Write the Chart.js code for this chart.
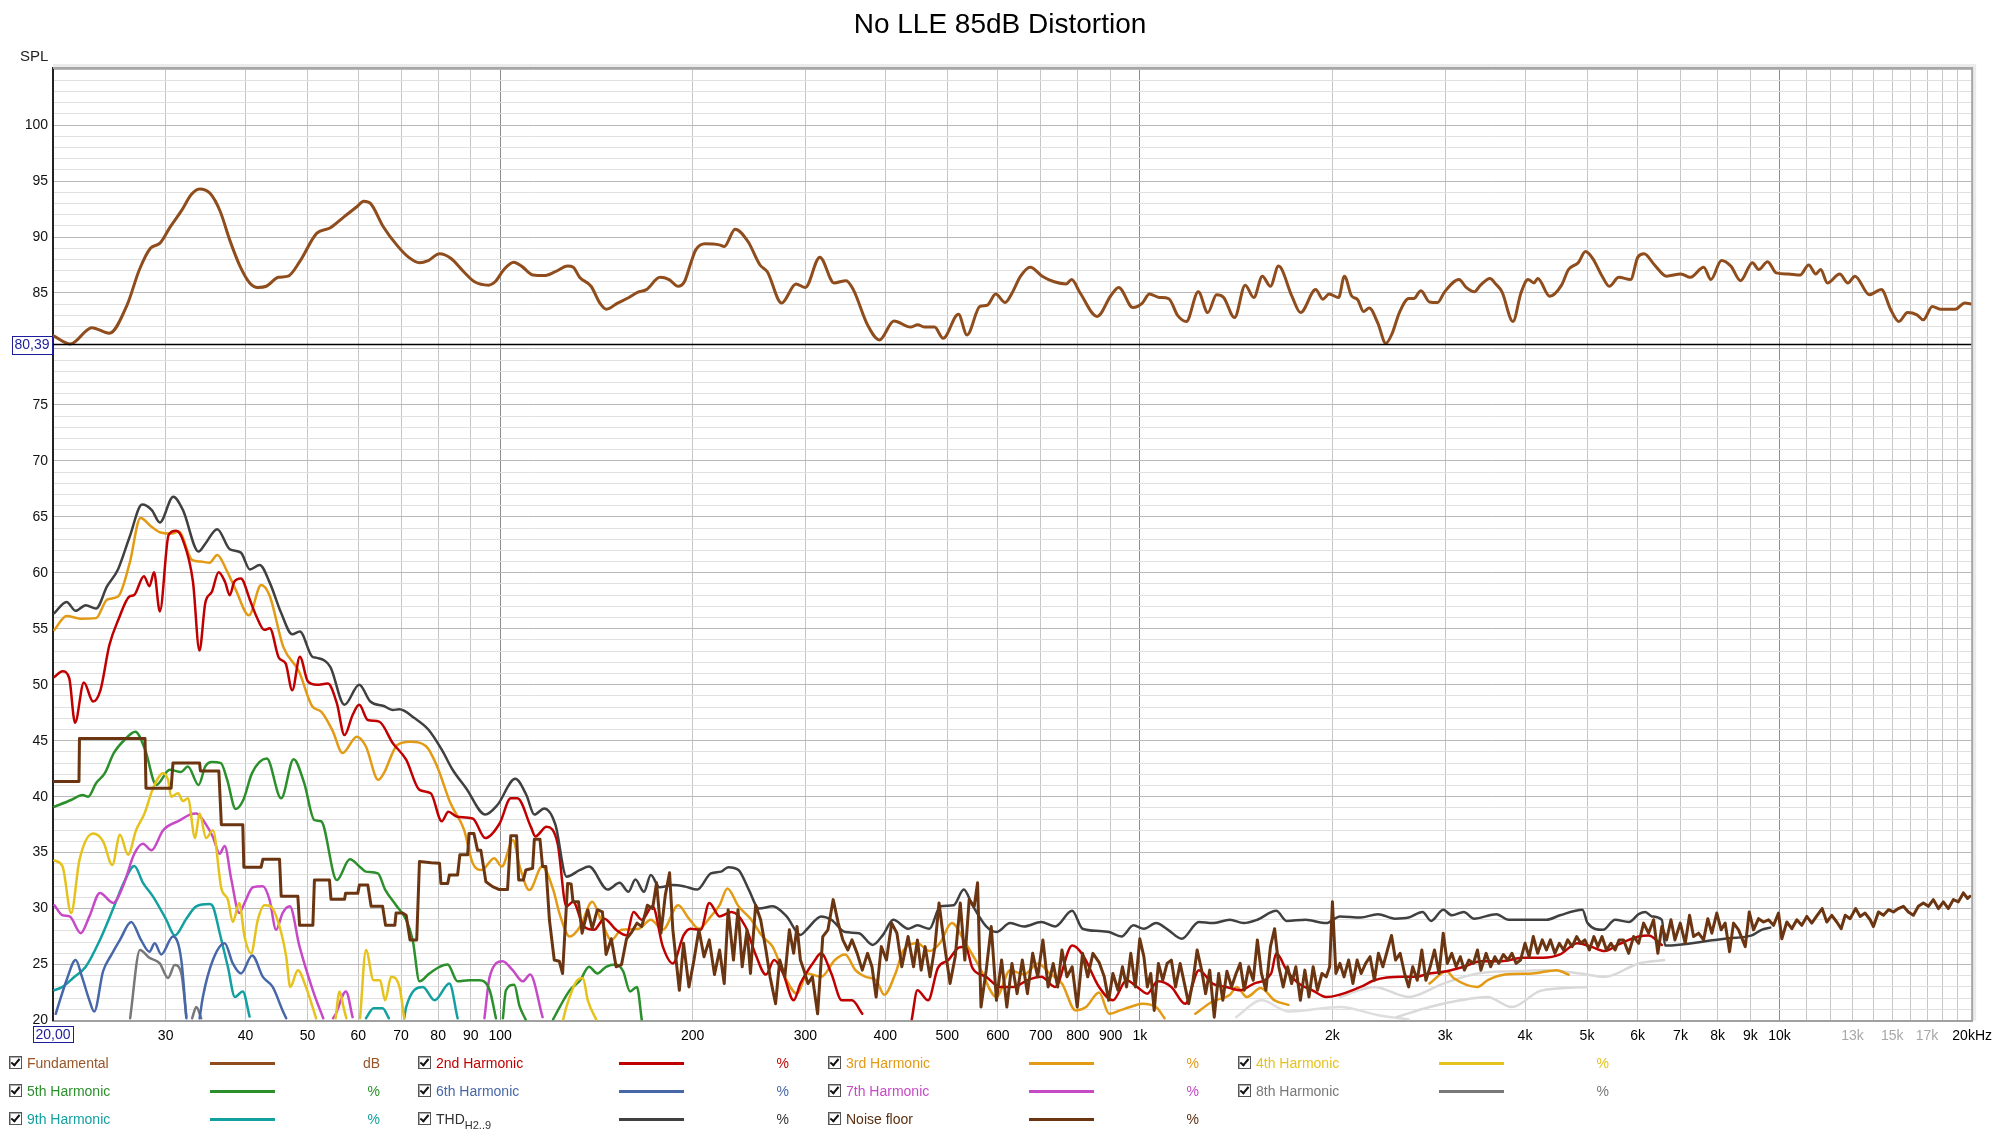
<!DOCTYPE html>
<html>
<head>
<meta charset="utf-8">
<title>No LLE 85dB Distortion</title>
<script src="https://cdn.jsdelivr.net/npm/chart.js@4.4.1/dist/chart.umd.min.js"></script>
<style>
  html, body { margin: 0; padding: 0; background: #fff; }
  #wrap { position: relative; width: 1999px; height: 1135px; overflow: hidden; font-family: "Liberation Sans", Arial, sans-serif; }
  #chart { position: absolute; left: 0; top: 0; }
  #spl { position: absolute; left: 20px; top: 47px; font-size: 15px; color: #222; }
  .item { position: absolute; height: 18px; font-size: 14px; }
  .cb { position: absolute; left: 0; top: 2px; width: 11px; height: 11px; border: 1px solid #555; background: #fff; box-shadow: inset 1px 1px 0 #aaa; }
  .cb::after { content: ''; position: absolute; left: 3px; top: 0; width: 3px; height: 7px; border: solid #111; border-width: 0 2px 2px 0; transform: rotate(40deg); }
  .name { position: absolute; left: 18px; top: 0; white-space: nowrap; line-height: 18px; }
  .name sub { font-size: 11px; vertical-align: -5px; }
  .swatch { position: absolute; left: 201px; top: 8px; width: 65px; height: 3px; }
  .unit { position: absolute; left: 300px; top: 0; width: 71px; text-align: right; line-height: 18px; }
</style>
</head>
<body>
<div id="wrap">
  <canvas id="chart" width="1999" height="1135"></canvas>
  <div id="spl">SPL</div>
  <div id="legend"></div>
</div>
<script>
// Frequency response and distortion readings, [Hz, dB]
const fundamental = [[20,81.2],[21.3,80.45],[23.0,81.9],[24.5,81.4],[26.1,83.9],[27.3,87.1],[28.4,89.0],[29.4,89.45],[30.5,90.9],[31.8,92.4],[32.9,93.8],[33.9,94.3],[35.2,93.9],[36.5,92.3],[37.8,89.7],[39.2,87.4],[40.6,85.9],[41.8,85.5],[43.1,85.6],[45.0,86.4],[46.6,86.5],[48.6,87.8],[51.7,90.35],[54.2,90.8],[57.0,91.8],[59.7,92.7],[61.2,93.2],[62.7,93.0],[65.7,90.9],[68.9,89.3],[71.9,88.2],[74.8,87.7],[77.2,87.9],[80.4,88.5],[83.7,88.1],[87.7,86.9],[91.2,86.0],[95.9,85.7],[98.2,86.0],[101.4,87.1],[105,87.75],[108,87.4],[112.6,86.6],[117.2,86.55],[122,86.9],[127.5,87.4],[130.1,87.3],[133.1,86.4],[138.7,85.6],[143.2,84.1],[146.6,83.55],[152.6,84.1],[159,84.6],[163.9,85.05],[169.3,85.3],[177.8,86.4],[183.7,86.2],[189.7,85.6],[194.1,86.0],[198.7,87.7],[202.2,88.85],[209.1,89.4],[220.1,89.3],[224,89.15],[233,90.7],[244,89.6],[254.8,87.5],[261.6,86.9],[275.4,84.1],[290,85.8],[300,85.5],[316,88.2],[332.6,85.9],[347.4,86.1],[356.5,85.3],[375.2,82.15],[391.6,80.8],[412.6,82.5],[438,81.95],[449.4,82.15],[461.3,81.95],[477.6,81.95],[492.6,80.95],[520.4,83.1],[536.8,81.25],[562.3,83.8],[577,83.9],[595.2,84.9],[615.8,84.15],[631.3,85.0],[650.9,86.5],[673.8,87.3],[703.6,86.5],[734.6,86.0],[766.9,85.8],[782.2,86.2],[806.6,85.0],[857.4,82.9],[901.6,84.8],[926.5,85.5],[975,83.7],[1009,84.1],[1035,84.9],[1072,84.6],[1109,84.5],[1147,82.95],[1182,82.45],[1234,85.1],[1277,83.25],[1318,84.85],[1352,84.6],[1406,82.8],[1461,85.7],[1507,84.6],[1554,86.5],[1600,85.6],[1647,87.4],[1729,84.7],[1783,83.25],[1883,85.3],[1932,84.45],[1976,84.9],[2045,84.6],[2088,86.5],[2142,84.75],[2190,84.4],[2236,83.35],[2283,83.65],[2355,82.3],[2424,80.5],[2480,81.4],[2545,83.25],[2633,84.5],[2680,84.5],[2750,85.2],[2836,84.2],[2920,84.15],[2995,85.1],[3154,86.2],[3236,85.5],[3332,85.1],[3408,85.7],[3526,86.3],[3600,85.8],[3682,85.1],[3830,82.45],[3942,85.0],[4044,86.2],[4130,85.9],[4188,86.3],[4372,84.7],[4562,85.7],[4678,87.1],[4844,87.7],[4972,88.7],[5102,88.1],[5280,86.5],[5416,85.6],[5606,86.4],[5848,86.2],[6004,88.2],[6140,88.5],[6376,87.5],[6656,86.5],[7008,86.7],[7252,86.4],[7610,87.3],[7810,86.2],[8110,87.9],[8392,87.4],[8688,86.1],[9070,87.7],[9276,87.1],[9578,87.8],[9880,86.8],[10316,86.7],[10766,86.6],[11104,87.5],[11396,86.7],[11594,87.1],[11878,85.9],[12418,86.7],[12786,85.9],[13116,86.5],[13814,84.85],[14422,85.3],[14922,83.5],[15366,82.45],[15848,83.25],[16398,83.05],[16776,82.6],[17326,83.8],[17870,83.55],[18818,83.55],[19472,84.1],[20000,84.0]];

const harmonic2 = [[20.1,50.7],[20.7,51.2],[21.2,50.6],[21.65,46.6],[22.35,50.2],[23.1,48.5],[23.72,49.5],[24.5,53.55],[25.3,55.8],[26.35,57.9],[26.77,58.0],[27.74,59.7],[28.3,58.8],[28.77,60.05],[29.38,56.55],[30.33,63.4],[31.17,63.75],[31.93,62.9],[33.1,59.2],[33.88,53.05],[34.6,57.3],[35.43,58.3],[36.3,60.05],[37.14,59.2],[37.79,58.0],[38.4,59.2],[39.33,59.5],[40.62,57.6],[41.6,56.1],[42.8,54.9],[43.65,55.05],[45.1,52.4],[46.2,51.9],[47.32,49.5],[48.63,52.5],[50.05,50.3],[51.69,50.0],[53.8,50.1],[55.55,48.35],[57.1,45.5],[58.8,47.3],[60.21,48.2],[62.1,46.85],[64.7,46.7],[67.92,44.8],[71.3,43.3],[74.8,40.6],[77.9,40.3],[81.04,37.8],[83.0,38.65],[85.7,38.2],[90.6,38.05],[94.8,36.3],[99.8,37.6],[103.9,39.85],[106.4,39.85],[111.7,37.3],[113.5,36.45],[118.2,37.3],[123.0,35.8],[126.9,30.2],[130.0,30.6],[135.1,28.4],[140.2,28.1],[145.5,29.1],[151.8,28.1],[157.6,27.6],[161.6,29.7],[166.5,29.0],[173.1,30.2],[179.6,26.6],[186.2,25.1],[193.5,27.6],[198.3,28.2],[205.8,28.1],[212.3,30.5],[220.3,29.3],[230.0,29.7],[241.8,28.4],[250.8,25.9],[260.3,24.1],[268.1,25.4],[276.9,24.2],[287.6,21.8],[294.7,23.3],[309.7,25.3],[317.5,26.0],[329.4,24.2],[342.0,21.8],[354.8,21.8],[368.2,20.6],[390,null],[440,20.1],[449.0,22.7],[466.6,21.8],[483.4,24.7],[501.9,25.4],[520.8,26.5],[533.9,26.6],[547.3,24.7],[575.2,23.9],[604.3,23.0],[634.8,23.0],[667.2,23.6],[701.1,23.9],[736.9,23.0],[783.8,26.7],[813.5,25.9],[863.5,23.0],[907.5,21.8],[953.3,23.6],[989.7,23.0],[1027.3,22.4],[1066,23.5],[1120,23.0],[1177,21.5],[1237,24.5],[1299,23.3],[1365,23.0],[1435,22.7],[1508,23.3],[1604,24.2],[1634,26.0],[1696,24.5],[1771,23.3],[1861,22.7],[1956,22.1],[2213,23.0],[2326,23.6],[2567,23.9],[2698,23.9],[2836,24.2],[3017,24.4],[3209,24.8],[3413,25.3],[3677,25.3],[3961,25.6],[4267,25.6],[4537,25.9],[4829,26.9],[5073,26.6],[5331,26.2],[5602,26.8],[6021,27.5],[6240,27.6],[6546,26.75]];

const harmonic3 = [[20.1,54.9],[21.0,56.15],[22.07,55.9],[23.35,55.95],[24.3,57.6],[25.3,57.9],[26.35,60.85],[27.4,64.9],[28.54,64.1],[29.47,63.6],[30.7,63.5],[31.43,63.7],[32.99,61.15],[34.04,61.0],[35.15,60.9],[36.12,61.6],[37.44,60.1],[38.6,58.5],[40.49,56.2],[42.3,58.9],[43.65,57.9],[45.8,53.4],[48.46,51.2],[50.87,48.05],[52.5,47.6],[54.7,45.9],[56.7,43.9],[59.7,45.35],[61.66,44.5],[64.5,41.5],[65.8,42.1],[69.0,44.6],[72.4,44.9],[76.6,44.5],[79.7,42.7],[83.65,39.4],[87.8,37.05],[90.6,34.05],[93.6,33.45],[97.9,34.5],[100.6,33.75],[104.7,36.1],[107.3,33.75],[111.1,31.65],[116.3,33.75],[121.1,31.65],[123.9,29.5],[128.5,27.5],[133.4,28.4],[139.3,30.6],[143.7,29.0],[149.2,27.2],[154.8,28.1],[164.7,28.2],[172.0,29.0],[179.6,28.1],[189.8,30.3],[197.3,29.1],[204.5,28.2],[213.5,29.3],[220.3,30.3],[226.6,31.8],[235.8,30.2],[246.2,29.1],[257.1,27.5],[266.6,26.6],[280.4,23.6],[291.1,22.4],[302.2,24.2],[317.5,23.9],[333.6,25.4],[346.2,25.9],[359.2,24.5],[372.9,23.9],[387.0,23.6],[398.5,22.3],[414.3,24.1],[427.3,26.3],[449.0,26.9],[468.9,26.2],[486.6,26.9],[508.2,28.7],[533.9,26.9],[561.2,24.8],[596.8,22.1],[627.0,24.5],[659.1,24.1],[692.4,25.1],[723.2,24.2],[755.4,23.3],[793.5,20.9],[823.8,21.2],[863.5,22.5],[895.5,20.6],[930.3,20.9],[965.5,21.2],[1008,21.5],[1059.7,21.2],[1093,20.2],[1110,null],[1221,20.6],[1299,21.7],[1382.6,22.3],[1416.7,23.0],[1470,22.1],[1545,22.9],[1624,21.8],[1707,21.4],[1760,null],[2836,23.3],[3017,24.4],[3092,23.8],[3371,23.0],[3499,23.6],[3722,24.1],[4111,24.2],[4482,24.5],[4680,24.1]];

const harmonic4 = [[20.1,34.3],[20.7,33.75],[21.35,29.6],[22.0,34.35],[23.1,36.7],[23.95,36.0],[24.76,33.9],[25.45,36.6],[26.2,34.8],[26.97,37.0],[27.8,38.5],[28.67,40.75],[29.73,42.1],[30.26,41.5],[30.6,40.0],[31.37,40.3],[31.93,39.6],[32.5,39.85],[33.35,36.3],[33.9,38.5],[34.7,36.3],[35.56,37.0],[36.66,31.8],[37.53,30.8],[38.2,28.8],[39.1,30.5],[39.85,27.5],[40.8,26.0],[41.8,29.0],[42.8,30.3],[43.8,30.2],[45.2,28.4],[46.3,25.7],[46.98,23.0],[48.28,24.5],[49.7,23.0],[51.56,20.2],[53,null],[55.3,20.2],[56.1,22.6],[57.0,21.0],[57.5,20.2],[58,null],[60.4,20.2],[61.7,26.3],[63.4,23.6],[64.9,23.6],[66.1,21.8],[67.55,23.9],[69.6,23.0],[70.8,20.2],[72,null],[125.4,20.05],[126.9,21.2],[132.0,23.6],[134.7,23.8],[137.1,21.8],[141.4,20.05]];

const harmonic5 = [[20.1,39.1],[21.35,39.7],[22.25,40.15],[22.7,40.0],[23.35,41.2],[24.1,42.1],[24.9,43.9],[25.9,45.1],[26.9,45.8],[27.86,44.2],[29.0,41.05],[30.45,42.4],[31.7,42.2],[32.5,42.7],[33.77,41.05],[34.6,42.7],[35.43,43.1],[36.6,43.0],[37.44,41.5],[38.6,38.9],[39.67,39.7],[40.94,42.1],[43.18,43.4],[45.47,39.85],[47.55,43.35],[49.4,41.2],[51.25,37.9],[52.5,37.8],[55.55,32.55],[58.21,34.4],[60.7,33.6],[61.7,33.3],[64.4,33.15],[66.1,31.7],[68.75,30.3],[71.3,29.0],[73.0,27.2],[74.8,23.5],[77.5,24.2],[80.4,24.8],[82.8,25.0],[85.8,23.5],[89.4,23.6],[92.8,23.6],[96.3,22.7],[98.5,20.2],[100,null],[101,20.2],[102.1,22.7],[105.2,23.2],[107.2,21.3],[109.7,20.05],[115,null],[121,20.1],[123.9,21.2],[128.5,22.7],[133.4,23.6],[137.7,24.8],[141.9,24.2],[146.4,24.8],[151.8,25.0],[155.7,24.4],[159.6,22.6],[163.6,23.0],[166.5,20.05]];

const harmonic6 = [[20.2,20.6],[21.0,23.6],[21.7,25.4],[22.2,23.9],[22.8,21.8],[23.2,20.8],[23.95,24.4],[24.7,25.9],[25.45,27.2],[26.5,28.8],[27.45,27.2],[28.3,26.15],[28.84,26.9],[29.53,25.9],[30.8,27.5],[31.74,25.4],[32.32,20.2],[33,null],[33.9,20.2],[34.3,22.1],[35.56,25.4],[37.1,26.9],[38.2,25.1],[39.35,24.2],[40.96,25.8],[42.57,23.9],[44.1,23.0],[45.7,20.9],[46.3,20.2]];

const harmonic7 = [[20.1,30.3],[20.7,29.4],[21.24,29.3],[22.1,27.8],[22.8,29.3],[23.68,31.4],[24.84,30.5],[25.73,32.0],[26.8,34.9],[27.65,35.8],[28.5,35.2],[29.73,37.0],[31.6,37.9],[32.73,38.4],[33.5,38.5],[34.7,37.5],[35.56,36.4],[36.45,34.9],[37.1,35.6],[38.0,32.6],[39.1,29.6],[39.85,30.5],[41.06,31.9],[42.57,32.0],[43.6,30.8],[44.65,28.1],[45.7,29.6],[46.9,30.2],[48.58,26.6],[50.96,22.7],[52.9,20.2],[54,null],[54.8,20.2],[55.35,20.6],[57.4,22.6],[58.8,20.3],[60,null],[94.5,20.2],[96.3,23.9],[100.9,25.3],[104.6,24.5],[108.5,23.5],[111.4,24.1],[116.5,20.3]];

const harmonic8 = [[26.4,20.2],[27.35,26.3],[28.3,25.6],[29.37,25.1],[30.26,23.8],[31.0,24.96],[31.74,24.2],[32.32,20.35],[32.7,null],[33.0,20.2],[33.5,21.2],[34.1,20.2]];

const harmonic9 = [[20.1,22.7],[20.7,23.0],[21.5,23.8],[22.5,24.8],[23.68,27.2],[24.84,30.0],[25.8,32.3],[26.8,33.8],[27.65,32.3],[28.67,31.07],[30.07,29.0],[31.0,27.6],[32.32,29.1],[33.5,30.2],[35.14,30.4],[35.56,30.2],[36.45,27.8],[37.53,24.8],[38.5,22.1],[39.6,22.6],[40.58,20.35],[41,null],[61.7,20.2],[63.4,21.1],[65.5,21.1],[67.0,20.2],[68,null],[70.8,20.2],[71.3,21.2],[75.7,23.0],[79.0,21.8],[83.3,23.3],[85.8,20.2]];

const thd = [[20.1,56.4],[21.0,57.4],[21.7,56.6],[22.5,57.1],[23.35,56.8],[24.3,58.8],[25.27,60.3],[26.35,63.2],[27.56,66.1],[28.54,65.6],[29.38,64.5],[30.83,66.8],[31.93,65.6],[33.77,61.9],[34.6,62.6],[36.12,63.9],[37.79,62.1],[39.33,61.8],[40.62,60.3],[42.08,60.7],[43.65,59.1],[45.47,56.4],[47.32,54.5],[48.63,54.75],[50.87,52.5],[51.69,52.4],[54.26,51.6],[57.1,48.2],[60.21,50.0],[62.67,48.5],[65.79,48.1],[67.92,47.75],[69.57,47.8],[73.54,47.0],[77.22,46.0],[81.04,44.2],[84.28,42.4],[88.47,40.75],[94.8,38.4],[99.01,39.25],[105.6,41.6],[109.9,40.15],[113.1,38.4],[117.2,38.95],[122.0,37.5],[127.0,32.85],[133.3,33.45],[137.7,33.75],[147.3,31.7],[153.7,32.3],[158.7,31.5],[162.7,32.6],[167.8,31.5],[172.0,33.0],[177.4,31.9],[186.2,32.1],[194.7,31.96],[203.3,31.7],[213.5,33.15],[221.6,33.3],[227.2,33.7],[235.8,33.45],[244.7,31.7],[253.9,30.0],[266.6,30.2],[280.4,29.3],[294.7,27.65],[302.2,28.2],[317.5,29.3],[329.4,29.0],[346.2,27.9],[363.8,27.8],[382.3,26.75],[396.7,27.65],[411.7,29.0],[434.2,28.2],[449.0,28.5],[468.9,28.2],[487.7,30.2],[511.4,30.3],[530.6,31.7],[547.3,30.3],[575.2,28.4],[596.8,27.9],[627.0,28.7],[659.1,28.4],[701.0,28.8],[736.9,28.4],[783.6,29.8],[813.5,28.2],[863.5,28.0],[895.2,27.9],[935.9,27.5],[977.3,28.5],[1014.6,28.2],[1059.7,28.7],[1106.8,28.1],[1162.7,27.3],[1237,28.8],[1299,28.7],[1382.6,29.0],[1452.4,28.7],[1526.5,29.0],[1633.8,29.8],[1696,28.9],[1815.4,29.0],[1956,28.7],[2055,29.3],[2213,29.2],[2354.6,29.5],[2505,29.1],[2631,29.2],[2766,29.7],[2853,28.9],[2980,29.9],[3073,29.4],[3209,29.7],[3330,29.1],[3609,29.5],[3770,29.0],[3961,29.0],[4113,29.0],[4321,29.0],[4537,29.4],[4918,29.9],[5011,28.7],[5297,28.1],[5532,29.0],[5814,28.8],[6021,29.5],[6168,29.7],[6314,29.3],[6546,29.0],[6623,26.7],[7932,27.2],[8322,27.34],[9049,27.6],[9370,28.1],[9668,28.3]];

const noiseFloor = [[20,41.35],[21.96,41.35],[22.0,45.2],[27.85,45.2],[27.95,40.75],[30.6,40.75],[30.8,43.0],[33.9,43.0],[34.0,42.3],[36.33,42.3],[36.66,37.5],[39.6,37.5],[39.75,33.7],[42.3,33.7],[42.57,34.4],[45.2,34.4],[45.47,31.1],[48.28,31.1],[48.58,28.5],[50.96,28.5],[51.25,32.55],[54.1,32.55],[54.4,30.83],[57.12,30.83],[57.33,31.36],[59.9,31.36],[60.25,32.1],[62.1,32.1],[62.85,30.2],[65.5,30.2],[66.2,28.5],[68.45,28.5],[68.75,29.6],[70.4,29.6],[71.3,29.4],[72.3,27.2],[74.06,27.2],[74.8,34.2],[78.0,34.1],[80.4,34.05],[80.8,32.25],[82.8,32.25],[83.3,33.0],[85.8,33.0],[86.5,34.8],[88.96,34.8],[89.4,36.7],[91.0,36.7],[92.2,35.2],[93.3,35.2],[95.0,32.4],[97.3,31.96],[99.7,31.7],[102.7,31.7],[103.9,36.5],[106.1,36.5],[106.9,32.55],[108.7,32.55],[109.7,33.45],[112.4,33.6],[113.1,36.2],[115.4,36.2],[116.5,33.75],[117.9,33.75],[119.4,29.0],[121.5,25.4],[123.7,25.3],[125.2,24.2],[127.5,32.25],[129.1,32.2],[130.0,30.6],[132.6,30.6],[134.3,27.8],[137.1,29.9],[139.3,28.2],[141.9,29.9],[144.5,29.7],[146.4,25.9],[149.2,27.3],[151.8,24.8],[154.8,25.0],[157.6,27.3],[160.6,27.9],[163.6,28.7],[166.5,28.4],[169.9,30.3],[173.1,30.0],[175.6,32.3],[178.4,27.8],[181.2,31.2],[184.0,33.2],[186.2,28.1],[190.6,22.7],[193.5,26.9],[197.3,23.0],[200.9,25.4],[204.5,28.1],[208.3,25.7],[212.3,27.2],[216.3,24.1],[220.3,26.3],[224.0,23.3],[227.2,29.9],[231.6,25.4],[235.4,29.9],[239.0,24.8],[243.2,28.1],[246.2,24.2],[250.8,30.3],[255.4,29.0],[260.3,26.3],[264.2,23.9],[269.5,21.5],[273.6,25.4],[278.6,23.9],[283.2,28.1],[287.6,26.0],[291.1,28.4],[294.7,25.4],[298.4,24.5],[302.8,23.3],[307.7,23.9],[313.5,20.6],[319.4,27.5],[325.4,28.1],[331.6,30.8],[337.7,28.7],[343.3,27.2],[349.6,26.3],[354.8,27.2],[361.5,26.0],[368.2,24.5],[375.2,26.0],[381.3,24.8],[387.0,22.1],[394.3,26.6],[401.7,25.4],[409.3,28.7],[417.1,27.8],[424.5,24.8],[434.2,27.5],[442.8,24.8],[449.0,27.2],[455.1,24.5],[461.7,26.6],[469.8,23.9],[478.2,26.6],[485.4,30.5],[492.8,27.5],[505.0,23.3],[514.5,25.7],[523.9,30.5],[532.6,25.4],[541.0,30.8],[550.9,30.2],[557.6,32.3],[564.5,21.2],[575.2,24.5],[585.7,28.4],[596.8,21.8],[608.0,25.4],[619.5,21.2],[631.0,25.1],[642.9,22.4],[655.0,25.4],[667.2,22.4],[679.9,26.0],[692.4,23.9],[705.4,27.2],[718.8,23.0],[732.1,25.1],[744.0,23.0],[755.4,26.3],[769.2,23.9],[783.8,24.8],[798.1,21.2],[813.5,26.0],[828.9,23.9],[844.6,26.0],[863.5,25.2],[879.8,23.9],[893.9,21.8],[907.5,24.2],[924.3,22.7],[939.3,24.8],[953.3,23.0],[967.9,26.0],[983.8,23.0],[999.7,27.3],[1014.6,25.7],[1027.3,23.0],[1040,24.2],[1053,20.9],[1069,25.1],[1086,23.6],[1103,25.1],[1120,25.4],[1137,23.0],[1156,25.1],[1174,23.3],[1192,21.5],[1211,23.6],[1229,26.3],[1249,24.5],[1267,22.4],[1286,24.5],[1307,20.3],[1328,24.2],[1348,21.8],[1368,24.4],[1391,23.0],[1414,24.2],[1435,25.1],[1456,22.7],[1480,24.8],[1504,23.6],[1526.5,27.2],[1549,24.2],[1574,22.7],[1600,26.6],[1624,28.2],[1649,24.8],[1675,23.0],[1702,24.8],[1727,23.3],[1753,24.8],[1782,21.8],[1811,24.5],[1838,22.1],[1866,24.8],[1895,22.7],[1926,24.2],[1956,23.9],[1980,24.8],[2000,30.6],[2025,24.2],[2055,25.1],[2085,23.9],[2120,25.4],[2153,23.3],[2186,25.4],[2218,24.2],[2254,25.1],[2290,25.7],[2326,23.6],[2360,26.0],[2398,24.8],[2438,26.3],[2474,27.6],[2510,25.4],[2552,26.0],[2593,24.2],[2631,23.0],[2670,24.8],[2714,23.6],[2759,26.3],[2800,23.6],[2843,24.8],[2888,26.3],[2935,24.2],[2980,27.8],[3024,25.1],[3073,26.0],[3122,24.8],[3169,25.7],[3216,24.5],[3268,25.4],[3322,25.1],[3371,26.3],[3413,24.5],[3477,26.0],[3535,24.8],[3588,25.7],[3640,25.1],[3700,25.9],[3761,25.4],[3816,26.0],[3874,25.1],[3936,25.4],[4000,26.9],[4060,25.7],[4121,27.5],[4187,26.0],[4256,27.2],[4321,26.3],[4383,27.2],[4454,26.0],[4526,26.9],[4595,26.3],[4664,27.2],[4740,26.6],[4817,27.5],[4889,26.9],[4961,27.2],[5043,26.3],[5126,27.5],[5200,26.6],[5277,27.5],[5363,26.3],[5450,26.9],[5532,26.3],[5612,27.2],[5703,27.2],[5808,26.0],[5913,27.5],[6021,26.9],[6130,28.7],[6240,27.8],[6354,29.0],[6452,26.0],[6546,28.4],[6658,27.2],[6764,29.0],[6862,27.2],[6994,28.7],[7121,26.9],[7232,29.4],[7337,27.5],[7470,27.8],[7606,27.2],[7724,29.1],[7836,27.8],[7977,29.6],[8104,28.1],[8221,28.7],[8352,26.15],[8473,28.7],[8627,28.1],[8838,26.6],[8965,29.7],[9105,28.1],[9270,29.1],[9438,28.8],[9610,29.0],[9784,28.5],[9962,29.6],[10081,27.3],[10264,28.8],[10450,28.2],[10640,29.0],[10831,28.5],[11028,29.3],[11228,28.7],[11420,29.3],[11654,30.0],[11852,28.8],[12067,29.4],[12286,28.8],[12481,28.2],[12663,29.4],[12891,29.1],[13150,30.0],[13363,29.3],[13604,29.6],[13853,29.0],[14018,28.4],[14274,29.7],[14532,29.4],[14797,29.9],[15064,29.7],[15335,30.0],[15614,30.2],[15898,29.7],[16186,29.4],[16481,30.2],[16778,30.5],[17085,30.2],[17393,30.8],[17710,30.0],[18031,30.6],[18356,30.0],[18690,30.8],[19030,30.6],[19375,31.4],[19675,30.9],[19844,31.1]];

// faint traces of harmonics below the reliable range
const fadedTraceA = [[2055,22.1],[2326,23.0],[2631,22.1],[2980,23.3],[3371,24.2],[3816,24.4],[4321,24.5],[4889,24.2],[5331,23.9],[6021,25.1],[6600,25.4]];
const fadedTraceB = [[2520,20.3],[2836,21.2],[3169,21.8],[3490,22.1],[3816,21.2],[4206,22.6],[4595,22.9],[5000,23.0]];
const fadedTraceC = [[1414,20.3],[1549,21.8],[1710,20.8],[2055,21.2],[2350,20.5],[2631,20.1]];

const cursorFreq = 20;
const cursorLevel = 80.39;

const xTickValues = [20,30,40,50,60,70,80,90,100,200,300,400,500,600,700,800,900,1000,2000,3000,4000,5000,6000,7000,8000,9000,10000,11000,12000,13000,14000,15000,16000,17000,18000,19000,20000];
const xTickLabels = ['','30','40','50','60','70','80','90','100','200','300','400','500','600','700','800','900','1k','2k','3k','4k','5k','6k','7k','8k','9k','10k','','','13k','','15k','','17k','','','20kHz'];
const fadedTickValues = [13000, 15000, 17000];
const decadeValues = [100, 1000, 10000];
const yLabelValues = [20,25,30,35,40,45,50,55,60,65,70,75,85,90,95,100];

const legendNames = ['Fundamental','2nd Harmonic','3rd Harmonic','4th Harmonic','5th Harmonic','6th Harmonic','7th Harmonic','8th Harmonic','9th Harmonic','THD<sub>H2..9</sub>','Noise floor'];
const legendUnits = ['dB','%','%','%','%','%','%','%','%','%','%'];
const seriesColors = ['#8f4c1c','#c00000','#e39a14','#e6c21c','#2b8f2b','#4767a8','#c64ac6','#787878','#12a0a0','#404040','#6a3510'];
const labelColors = ['#9a5526','#c00000','#e39a14','#e6c21c','#2b8f2b','#4767a8','#c64ac6','#787878','#12a0a0','#303030','#5a2e10'];

Chart.defaults.font.family = '"Liberation Sans", Arial, sans-serif';

function toPoints(pairs) {
  return pairs.map(p => ({ x: p[0], y: p[1] }));
}

function series(label, pairs, color, width, order, smooth) {
  return {
    label: label,
    data: toPoints(pairs),
    borderColor: color,
    borderWidth: width,
    pointRadius: 0,
    fill: false,
    order: order,
    tension: smooth ? 0.4 : 0,
    cubicInterpolationMode: smooth ? 'monotone' : 'default',
    borderJoinStyle: 'round',
    borderCapStyle: 'round'
  };
}

const datasets = [
  series('cursor', [[cursorFreq, cursorLevel], [20000, cursorLevel]], '#000000', 1.5, 0, false),
  series('Fundamental', fundamental, seriesColors[0], 3, 1, true),
  series('Noise floor', noiseFloor, seriesColors[10], 3, 2, false),
  series('THD', thd, seriesColors[9], 2.5, 3, true),
  series('2nd Harmonic', harmonic2, seriesColors[1], 2.5, 4, true),
  series('3rd Harmonic', harmonic3, seriesColors[2], 2.5, 5, true),
  series('4th Harmonic', harmonic4, seriesColors[3], 2.5, 6, true),
  series('5th Harmonic', harmonic5, seriesColors[4], 2.5, 7, true),
  series('6th Harmonic', harmonic6, seriesColors[5], 2.5, 8, true),
  series('7th Harmonic', harmonic7, seriesColors[6], 2.5, 9, true),
  series('8th Harmonic', harmonic8, seriesColors[7], 2.5, 10, true),
  series('9th Harmonic', harmonic9, seriesColors[8], 2.5, 11, true),
  series('faded A', fadedTraceA, '#d9d9d9', 2.5, 15, true),
  series('faded B', fadedTraceB, '#d9d9d9', 2.5, 15, true),
  series('faded C', fadedTraceC, '#dedede', 2.5, 15, true)
];

function cursorBox(ctx, text, cx, cy, w, h) {
  ctx.fillStyle = '#ffffff';
  ctx.fillRect(cx - w / 2, cy - h / 2, w, h);
  ctx.strokeStyle = '#1c1c9c';
  ctx.lineWidth = 1;
  ctx.strokeRect(Math.round(cx - w / 2) + 0.5, Math.round(cy - h / 2) + 0.5, w, h);
  ctx.fillStyle = '#1c1c9c';
  ctx.font = '14px "Liberation Sans", Arial, sans-serif';
  ctx.textAlign = 'center';
  ctx.textBaseline = 'middle';
  ctx.fillText(text, cx, cy + 1);
}

// plot frame plus the cursor read-outs on both axes
const overlay = {
  id: 'overlay',
  afterDatasetsDraw(chart) {
    const ctx = chart.ctx;
    const a = chart.chartArea;
    ctx.save();
    ctx.strokeStyle = '#a6a6a6';
    ctx.lineWidth = 2;
    ctx.beginPath();
    ctx.moveTo(a.left, a.top);
    ctx.lineTo(a.right, a.top);
    ctx.lineTo(a.right, a.bottom);
    ctx.stroke();
    ctx.strokeStyle = 'rgba(0,0,0,0.08)';
    ctx.lineWidth = 3;
    ctx.beginPath();
    ctx.moveTo(a.left, a.top - 2.5);
    ctx.lineTo(a.right + 2.5, a.top - 2.5);
    ctx.lineTo(a.right + 2.5, a.bottom);
    ctx.stroke();
    ctx.restore();
  },
  afterDraw(chart) {
    const ctx = chart.ctx;
    const a = chart.chartArea;
    const x = chart.scales.x;
    const y = chart.scales.y;
    ctx.save();
    cursorBox(ctx, cursorLevel.toFixed(2).replace('.', ','), 32, y.getPixelForValue(cursorLevel), 40, 18);
    cursorBox(ctx, cursorFreq.toFixed(2).replace('.', ','), x.getPixelForValue(cursorFreq), a.bottom + 13.5, 40, 16);
    ctx.restore();
  }
};

new Chart(document.getElementById('chart'), {
  type: 'line',
  data: { datasets: datasets },
  options: {
    responsive: false,
    animation: false,
    events: [],
    layout: { autoPadding: false, padding: { left: 26, right: 25, top: 0, bottom: 0 } },
    plugins: {
      legend: { display: false },
      tooltip: { enabled: false },
      title: {
        display: true,
        text: 'No LLE 85dB Distortion',
        color: '#000',
        font: { size: 28, weight: 'normal' },
        padding: { top: 8.7, bottom: 25.7 }
      }
    },
    scales: {
      x: {
        type: 'logarithmic',
        min: 20,
        max: 20000,
        afterBuildTicks: function (scale) {
          scale.ticks = xTickValues.map(v => ({ value: v }));
        },
        afterFit: function (scale) { scale.height = 114.5; },
        ticks: {
          autoSkip: false,
          maxRotation: 0,
          padding: 7,
          font: { size: 14 },
          color: ctx => fadedTickValues.includes(ctx.tick.value) ? '#a8a8a8' : '#000',
          callback: function (value) {
            const i = xTickValues.indexOf(value);
            return i >= 0 ? xTickLabels[i] : '';
          }
        },
        grid: {
          drawTicks: false,
          lineWidth: 1,
          color: ctx => decadeValues.includes(ctx.tick.value) ? '#8c8c8c' : '#c6c6c6'
        },
        border: { color: '#a0a0a0', width: 2 }
      },
      y: {
        min: 20,
        max: 105.1,
        afterBuildTicks: function (scale) {
          const ticks = [];
          for (let v = 20; v <= 105; v++) ticks.push({ value: v });
          scale.ticks = ticks;
        },
        afterFit: function (scale) { scale.width = 27; },
        ticks: {
          autoSkip: false,
          padding: 5,
          font: { size: 14 },
          color: '#111',
          callback: value => yLabelValues.includes(value) ? String(value) : ''
        },
        grid: {
          drawTicks: false,
          lineWidth: 1,
          color: ctx => ctx.tick.value % 5 === 0 ? '#b8b8b8' : '#e0e0e0'
        },
        border: { color: '#222', width: 2 }
      }
    }
  },
  plugins: [overlay]
});

// Legend below the plot, 4 columns x 3 rows
const legend = document.getElementById('legend');
const columnLeft = [9, 418, 828, 1238];
const rowCenter = [1063, 1091, 1119];
legendNames.forEach(function (name, i) {
  const item = document.createElement('div');
  item.className = 'item';
  item.style.left = columnLeft[i % 4] + 'px';
  item.style.top = (rowCenter[Math.floor(i / 4)] - 9) + 'px';
  item.innerHTML =
    '<div class="cb"></div>' +
    '<div class="name" style="color:' + labelColors[i] + '">' + name + '</div>' +
    '<div class="swatch" style="background:' + seriesColors[i] + '"></div>' +
    '<div class="unit" style="color:' + labelColors[i] + '">' + legendUnits[i] + '</div>';
  legend.appendChild(item);
});
</script>
</body>
</html>
